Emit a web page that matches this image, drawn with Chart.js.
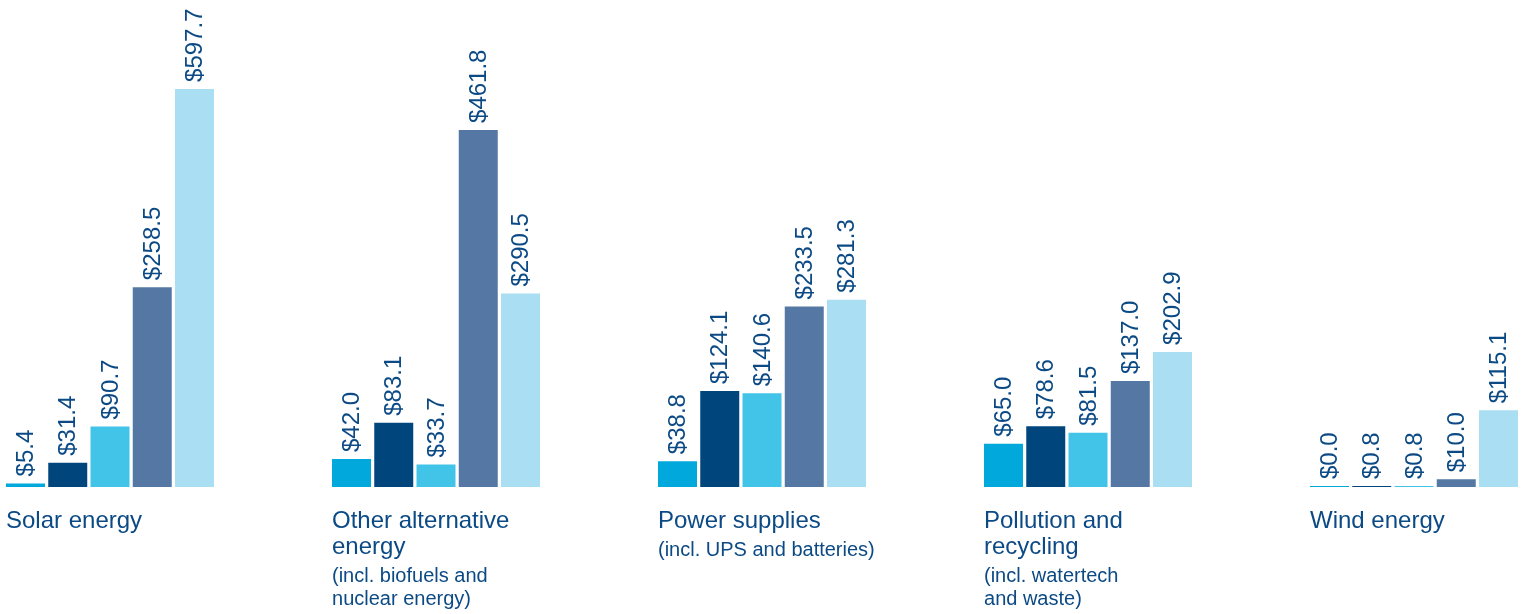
<!DOCTYPE html>
<html>
<head>
<meta charset="utf-8">
<script src="https://cdn.jsdelivr.net/npm/chart.js@4.4.1/dist/chart.umd.min.js"></script>
<style>
  html, body { margin: 0; padding: 0; background: #ffffff; overflow: hidden; }
  #wrap { position: absolute; left: -53px; top: 0; width: 1632px; height: 614px; }
</style>
</head>
<body>
<div id="wrap"><canvas id="c" width="1632" height="614"></canvas></div>
<script>
// ---- Data ----
const categories = [['Solar energy'], ['Other alternative', 'energy'], ['Power supplies'], ['Pollution and', 'recycling'], ['Wind energy']];
const subtitles = [[], ['(incl. biofuels and', 'nuclear energy)'], ['(incl. UPS and batteries)'], ['(incl. watertech', 'and waste)'], []];
const seriesNames = ['Series 1', 'Series 2', 'Series 3', 'Series 4', 'Series 5'];
const series1 = [5.4, 42.0, 38.8, 65.0, 0.0];
const series2 = [31.4, 83.1, 124.1, 78.6, 0.8];
const series3 = [90.7, 33.7, 140.6, 81.5, 0.8];
const series4 = [258.5, 461.8, 233.5, 137.0, 10.0];
const series5 = [597.7, 290.5, 281.3, 202.9, 115.1];

const colors = ['#00a8dc', '#00457c', '#42c3e8', '#5577a3', '#aadef2'];
const axisFor = ['y', 'y2', 'y', 'y2', 'y'];
const allSeries = [series1, series2, series3, series4, series5];
const textColor = '#0c4a85';
const fontFamily = '"Liberation Sans", Arial, Helvetica, sans-serif';

const datasets = allSeries.map((d, i) => ({
  label: seriesNames[i],
  data: d,
  backgroundColor: colors[i],
  borderWidth: 0,
  yAxisID: axisFor[i],
  barPercentage: 0.923,
  categoryPercentage: 0.648,
  minBarLength: 1
}));

const valueLabels = {
  id: 'valueLabels',
  afterDatasetsDraw(chart) {
    const ctx = chart.ctx;
    ctx.save();
    ctx.fillStyle = textColor;
    ctx.font = '24px ' + fontFamily;
    ctx.textAlign = 'left';
    ctx.textBaseline = 'middle';
    chart.data.datasets.forEach((ds, di) => {
      const meta = chart.getDatasetMeta(di);
      meta.data.forEach((bar, i) => {
        const v = ds.data[i];
        const top = Math.min(bar.y, bar.base);
        ctx.save();
        ctx.translate(bar.x + 1, top - 7);
        ctx.rotate(-Math.PI / 2);
        ctx.fillText('$' + v.toFixed(1), 0, 0);
        ctx.restore();
      });
    });
    ctx.restore();
  }
};

const categoryLabels = {
  id: 'categoryLabels',
  afterDraw(chart) {
    const ctx = chart.ctx;
    const meta = chart.getDatasetMeta(0);
    const base = chart.scales.y.getPixelForValue(0);
    ctx.save();
    ctx.fillStyle = textColor;
    ctx.textAlign = 'left';
    ctx.textBaseline = 'alphabetic';
    meta.data.forEach((bar, i) => {
      const x = bar.x - bar.width / 2;
      let y = base + 41;
      ctx.font = '24px ' + fontFamily;
      categories[i].forEach((line, li) => {
        if (li > 0) y += 25.5;
        ctx.fillText(line, x, y);
      });
      ctx.font = '20px ' + fontFamily;
      subtitles[i].forEach((line, li) => {
        y += (li === 0) ? 28.4 : 23;
        ctx.fillText(line, x, y);
      });
    });
    ctx.restore();
  }
};

new Chart(document.getElementById('c'), {
  type: 'bar',
  data: { labels: categories.map(c => c.join(' ')), datasets },
  options: {
    responsive: false,
    animation: false,
    devicePixelRatio: 1,
    layout: { padding: { left: 0, right: 2, top: 0, bottom: 127 } },
    plugins: { legend: { display: false }, tooltip: { enabled: false } },
    scales: {
      x: { display: false, grid: { display: false } },
      y: { display: false, min: 0, max: 731.3 },
      y2: { display: false, min: 0, max: 629.9 }
    }
  },
  plugins: [valueLabels, categoryLabels]
});
</script>
</body>
</html>
